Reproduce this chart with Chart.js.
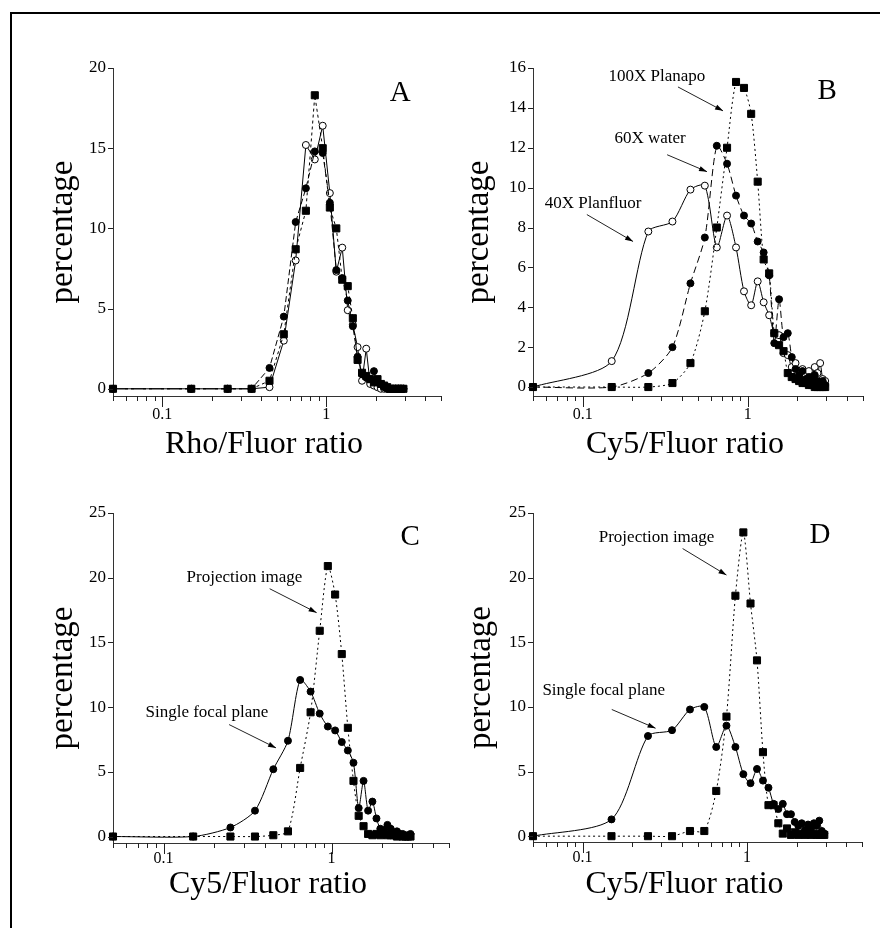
<!DOCTYPE html>
<html>
<head>
<meta charset="utf-8">
<title>Ratio histograms</title>
<script src="https://cdn.jsdelivr.net/npm/chart.js@4.4.1/dist/chart.umd.min.js"></script>
<style>
  html, body { margin: 0; padding: 0; background: #fff; }
  #page { position: relative; width: 880px; height: 928px; overflow: hidden; background: #fff; }
  #frame { position: absolute; left: 10px; top: 12px; width: 900px; height: 950px;
           border-left: 2px solid #000; border-top: 2px solid #000; }
  canvas { position: absolute; }
</style>
</head>
<body>
<div id="page">
  <div id="frame"></div>
  <canvas id="chart-a" width="450" height="470" style="left:0;top:0"></canvas>
  <canvas id="chart-b" width="430" height="470" style="left:450px;top:0"></canvas>
  <canvas id="chart-c" width="455" height="458" style="left:0;top:470px"></canvas>
  <canvas id="chart-d" width="430" height="458" style="left:450px;top:470px"></canvas>
</div>
<script>
// bins of the ratio histograms (centre of each 0.1 wide bin)
const ratioBins = [0.05, 0.15, 0.25, 0.35, 0.45, 0.55, 0.65, 0.75, 0.85, 0.95,
                   1.05, 1.15, 1.25, 1.35, 1.45, 1.55, 1.65, 1.75, 1.85, 1.95,
                   2.05, 2.15, 2.25, 2.35, 2.45, 2.55, 2.65, 2.75, 2.85, 2.95];

// axis ticks
const xTickValues = [0.05, 0.06, 0.07, 0.08, 0.09, 0.1, 0.2, 0.3, 0.4, 0.5, 0.6, 0.7, 0.8, 0.9, 1, 2, 3, 4, 5];
const majorRatios = [0.1, 1];
const yTicksA = [0, 5, 10, 15, 20];
const yTicksB = [0, 2, 4, 6, 8, 10, 12, 14, 16];
const yTicksCD = [0, 5, 10, 15, 20, 25];

// A : Rho/Fluor
const rhoSquares = [0, 0, 0, 0, 0.5, 3.4, 8.7, 11.1, 18.3, 15.0,
                    11.3, 10.0, 6.8, 6.4, 4.4, 1.8, 1.0, 0.8, 0.6, 0.4,
                    0.6, 0.3, 0.2, 0.1, 0, 0, 0, 0, 0, 0];
const rhoFilled = [0, 0, 0, 0, 1.3, 4.5, 10.4, 12.5, 14.8, 14.7,
                   11.6, 7.4, 6.9, 5.5, 3.9, 2.0, 0.9, 0.7, 0.6, 1.1,
                   0.4, 0.3, 0.1, 0, 0, 0, 0, 0, 0, 0];
const rhoOpen = [0, 0, 0, 0, 0.1, 3.0, 8.0, 15.2, 14.3, 16.4,
                 12.2, 7.3, 8.8, 4.9, 4.0, 2.6, 0.5, 2.5, 0.3, 0.2,
                 0.1, 0, 0, 0, 0, 0, 0, 0, 0, 0];

// B : Cy5/Fluor, three objectives
const planapo100 = [0, 0, 0, 0.2, 1.2, 3.8, 8.0, 12.0, 15.3, 15.0,
                    13.7, 10.3, 6.4, 5.7, 2.7, 2.1, 1.8, 0.7, 0.5, 0.4,
                    0.3, 0.2, 0.2, 0.1, 0.1, 0, 0, 0, 0, 0];
const water60 = [0, 0, 0.7, 2.0, 5.2, 7.5, 12.1, 11.2, 9.6, 8.6,
                 8.2, 7.3, 6.75, 5.6, 2.2, 4.4, 2.5, 2.7, 1.5, 0.9,
                 0.6, 0.8, 0.4, 0.5, 0.3, 0.6, 0.3, 0.2, 0.3, 0.1];
const planfluor40 = [0, 1.3, 7.8, 8.3, 9.9, 10.1, 7.0, 8.6, 7.0, 4.8,
                     4.1, 5.3, 4.25, 3.6, 2.7, 2.6, 1.7, 1.6, 1.0, 1.2,
                     0.8, 0.9, 0.6, 0.8, 0.5, 1.0, 0.7, 1.2, 0.4, 0.3];

// C : Cy5/Fluor, projection vs single plane
const projectionC = [0, 0, 0, 0, 0.1, 0.4, 5.3, 9.6, 15.9, 20.9,
                     18.7, 14.1, 8.4, 4.3, 1.6, 0.8, 0.2, 0.1, 0.2, 0.1,
                     0.2, 0.1, 0.1, 0.1, 0, 0.1, 0, 0, 0, 0];
const singleC = [0, 0, 0.7, 2.0, 5.2, 7.4, 12.1, 11.2, 9.5, 8.5,
                 8.2, 7.3, 6.65, 5.7, 2.2, 4.3, 2.0, 2.7, 1.4, 0.6,
                 0.5, 0.9, 0.6, 0.3, 0.4, 0.2, 0.2, 0.1, 0.1, 0.2];

// D : Cy5/Fluor, projection vs single plane
const projectionD = [0, 0, 0, 0, 0.4, 0.4, 3.5, 9.25, 18.6, 23.5,
                     18.0, 13.6, 6.5, 2.4, 2.4, 1.0, 0.2, 0.6, 0.1, 0.3,
                     0.1, 0.2, 0.1, 0.3, 0.1, 0.2, 0.1, 0.1, 0.1, 0.1];
const singleD = [0, 1.3, 7.75, 8.2, 9.8, 10.0, 6.9, 8.55, 6.9, 4.8,
                 4.1, 5.2, 4.3, 3.75, 2.5, 2.1, 2.5, 1.7, 1.7, 1.1,
                 0.8, 1.0, 0.5, 0.9, 0.6, 1.0, 0.8, 1.2, 0.4, 0.2];

const SERIF = '"Liberation Serif", "Times New Roman", serif';
Chart.defaults.font.family = SERIF;
Chart.defaults.color = '#000';

// tick marks, x title, panel letter and arrow labels
const decorations = {
    id: 'decorations',
    afterDraw(chart, args, opts) {
        const {ctx, chartArea} = chart;
        const x = chart.scales.x, y = chart.scales.y;
        ctx.save();
        ctx.strokeStyle = '#222';
        ctx.lineWidth = 1;
        xTickValues.forEach(v => {
            const px = Math.round(x.getPixelForValue(v)) + 0.5;
            const len = majorRatios.includes(v) ? 11 : 5;
            ctx.beginPath();
            ctx.moveTo(px, chartArea.bottom);
            ctx.lineTo(px, chartArea.bottom + len);
            ctx.stroke();
        });
        y.ticks.forEach(t => {
            const py = Math.round(y.getPixelForValue(t.value)) + 0.5;
            ctx.beginPath();
            ctx.moveTo(chartArea.left - 5, py);
            ctx.lineTo(chartArea.left, py);
            ctx.stroke();
        });

        ctx.fillStyle = '#000';
        ctx.textAlign = 'center';
        ctx.textBaseline = 'middle';

        // x axis title, sits a little left of the plot centre
        ctx.font = '32px ' + SERIF;
        ctx.fillText(opts.xTitle.text, (chartArea.left + chartArea.right) / 2 - 13,
                     chartArea.bottom + opts.xTitle.offset);

        ctx.font = '29px ' + SERIF;
        ctx.fillText(opts.letter.text, x.getPixelForValue(opts.letter.x), y.getPixelForValue(opts.letter.y));

        ctx.font = '17px ' + SERIF;
        (opts.notes || []).forEach(n => {
            ctx.fillText(n.text, x.getPixelForValue(n.x), y.getPixelForValue(n.y));
            const x1 = x.getPixelForValue(n.from[0]), y1 = y.getPixelForValue(n.from[1]);
            const x2 = x.getPixelForValue(n.to[0]), y2 = y.getPixelForValue(n.to[1]);
            ctx.beginPath();
            ctx.moveTo(x1, y1);
            ctx.lineTo(x2, y2);
            ctx.stroke();
            const a = Math.atan2(y2 - y1, x2 - x1);
            ctx.beginPath();
            ctx.moveTo(x2, y2);
            ctx.lineTo(x2 - 8 * Math.cos(a) + 2.6 * Math.sin(a), y2 - 8 * Math.sin(a) - 2.6 * Math.cos(a));
            ctx.lineTo(x2 - 8 * Math.cos(a) - 2.6 * Math.sin(a), y2 - 8 * Math.sin(a) + 2.6 * Math.cos(a));
            ctx.closePath();
            ctx.fill();
        });
        ctx.restore();
    }
};

function makePanel(canvasId, cfg) {
    const datasets = cfg.series.map(s => ({
        data: ratioBins.map((r, i) => ({x: r, y: s.values[i]})),
        borderColor: '#000',
        borderWidth: 1,
        borderDash: s.dash,
        pointStyle: s.marker === 'square' ? 'rect' : 'circle',
        pointRadius: s.marker === 'square' ? 5 : 3.5,
        pointBackgroundColor: s.marker === 'open' ? '#fff' : '#000',
        pointBorderColor: '#000',
        pointBorderWidth: 1,
        tension: cfg.tension,
        fill: false,
        clip: false
    }));

    new Chart(document.getElementById(canvasId), {
        type: 'line',
        data: { datasets },
        plugins: [decorations],
        options: {
            responsive: false,
            animation: false,
            events: [],
            layout: { padding: { left: 0, top: cfg.box.top, right: cfg.box.right, bottom: 0 } },
            plugins: {
                legend: { display: false },
                tooltip: { enabled: false },
                decorations: {
                    letter: cfg.letter,
                    notes: cfg.notes,
                    xTitle: { text: cfg.xTitle, offset: cfg.box.xTitleOffset }
                }
            },
            scales: {
                x: {
                    type: 'logarithmic',
                    min: 0.05,
                    max: 5,
                    afterFit: s => { s.height = cfg.box.xHeight; },
                    afterBuildTicks: s => { s.ticks = xTickValues.map(v => ({value: v})); },
                    grid: { display: true, drawOnChartArea: false, drawTicks: false },
                    border: { display: true, color: '#333', width: 1 },
                    ticks: {
                        autoSkip: false, maxRotation: 0, padding: cfg.box.xPad,
                        font: { size: 16 }, color: '#000',
                        callback: v => majorRatios.includes(v) ? String(v) : ''
                    }
                },
                y: {
                    min: cfg.yMin,
                    max: cfg.yTicks[cfg.yTicks.length - 1],
                    afterFit: s => { s.width = cfg.box.yWidth; },
                    afterBuildTicks: s => { s.ticks = cfg.yTicks.map(v => ({value: v})); },
                    grid: { display: true, drawOnChartArea: false, drawTicks: false },
                    border: { display: true, color: '#333', width: 1 },
                    ticks: { padding: 7, font: { size: 17 }, color: '#000' },
                    title: {
                        display: true, text: 'percentage', color: '#000',
                        font: { size: 33 }, padding: { top: cfg.box.yTitlePad, bottom: 0 }
                    }
                }
            }
        }
    });
}

makePanel('chart-a', {
    xTitle: 'Rho/Fluor ratio',
    yTicks: yTicksA, yMin: -0.45, tension: 0,
    box: { top: 68, right: 5, xHeight: 74, yWidth: 113, xPad: 9, xTitleOffset: 49, yTitlePad: 44 },
    letter: { text: 'A', x: 2.82, y: 18.4 },
    notes: [],
    series: [
        { values: rhoSquares, marker: 'square', dash: [3, 3] },
        { values: rhoFilled, marker: 'filled', dash: [6, 3] },
        { values: rhoOpen, marker: 'open', dash: [] }
    ]
});

makePanel('chart-b', {
    xTitle: 'Cy5/Fluor ratio',
    yTicks: yTicksB, yMin: -0.45, tension: 0.25,
    box: { top: 68, right: 17, xHeight: 74, yWidth: 83, xPad: 9, xTitleOffset: 49, yTitlePad: 10 },
    letter: { text: 'B', x: 3.03, y: 14.85 },
    notes: [
        { text: '100X Planapo', x: 0.282, y: 15.55, from: [0.378, 15.05], to: [0.709, 13.85] },
        { text: '60X water', x: 0.256, y: 12.45, from: [0.325, 11.65], to: [0.567, 10.8] },
        { text: '40X Planfluor', x: 0.1156, y: 9.2, from: [0.106, 8.65], to: [0.202, 7.3] }
    ],
    series: [
        { values: planapo100, marker: 'square', dash: [2, 3] },
        { values: water60, marker: 'filled', dash: [7, 4] },
        { values: planfluor40, marker: 'open', dash: [] }
    ]
});

makePanel('chart-c', {
    xTitle: 'Cy5/Fluor ratio',
    yTicks: yTicksCD, yMin: -0.5, tension: 0.25,
    box: { top: 43, right: 5, xHeight: 85, yWidth: 113, xPad: 6, xTitleOffset: 42, yTitlePad: 44 },
    letter: { text: 'C', x: 2.94, y: 23.15 },
    notes: [
        { text: 'Projection image', x: 0.303, y: 20.05, from: [0.428, 19.15], to: [0.815, 17.3] },
        { text: 'Single focal plane', x: 0.181, y: 9.55, from: [0.2455, 8.65], to: [0.467, 6.85] }
    ],
    series: [
        { values: projectionC, marker: 'square', dash: [2, 3] },
        { values: singleC, marker: 'filled', dash: [] }
    ]
});

makePanel('chart-d', {
    xTitle: 'Cy5/Fluor ratio',
    yTicks: yTicksCD, yMin: -0.45, tension: 0.25,
    box: { top: 43, right: 18, xHeight: 86, yWidth: 83, xPad: 6, xTitleOffset: 43, yTitlePad: 12 },
    letter: { text: 'D', x: 2.78, y: 23.3 },
    notes: [
        { text: 'Projection image', x: 0.282, y: 23.1, from: [0.406, 22.25], to: [0.75, 20.2] },
        { text: 'Single focal plane', x: 0.1346, y: 11.3, from: [0.1506, 9.8], to: [0.278, 8.35] }
    ],
    series: [
        { values: projectionD, marker: 'square', dash: [2, 3] },
        { values: singleD, marker: 'filled', dash: [] }
    ]
});
</script>
</body>
</html>
